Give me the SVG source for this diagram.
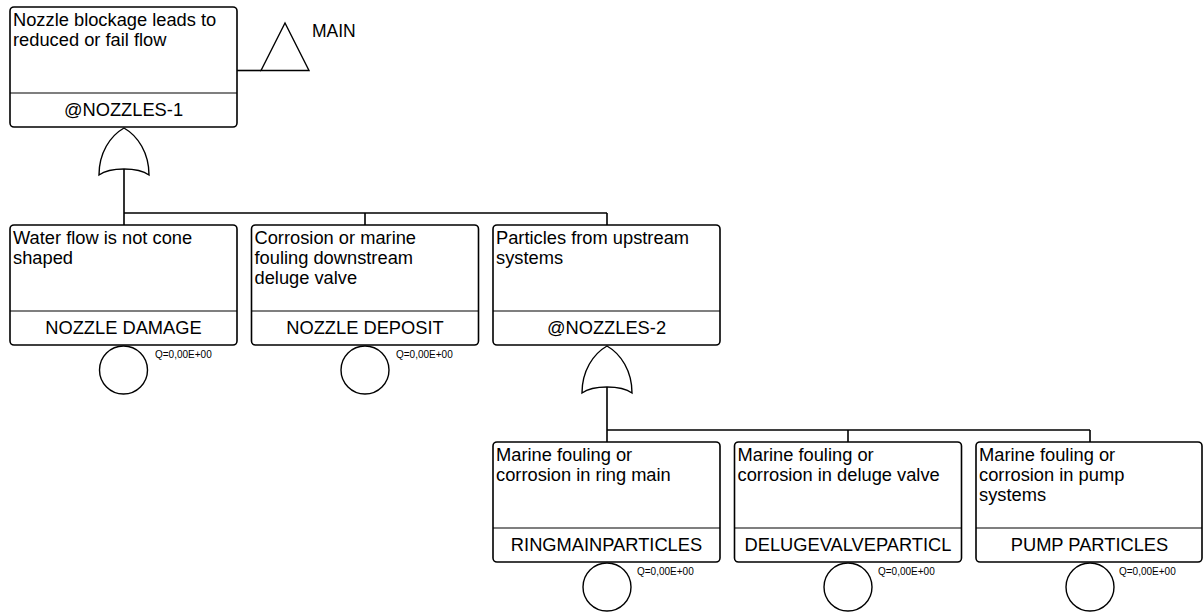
<svg xmlns="http://www.w3.org/2000/svg" width="1203" height="613" viewBox="0 0 1203 613">
  <style>
    .box { fill: #fff; stroke: #000; stroke-width: 1.6; }
    .div { stroke: #000; stroke-width: 1.2; }
    .wire { fill: none; stroke: #000; stroke-width: 1.6; }
    .gate { fill: #fff; stroke: #000; stroke-width: 1.4; }
    .desc { font-family: "Liberation Sans", Arial, sans-serif; font-size: 18.3px; fill: #000; }
    .name { font-family: "Liberation Sans", Arial, sans-serif; font-size: 18.3px; fill: #000; text-anchor: middle; }
    .q { font-family: "Liberation Sans", Arial, sans-serif; font-size: 10px; fill: #000; }
  </style>
  <defs>
    <!-- OR gate, apex at origin -->
    <path id="orgate" d="M -25 47 C -25 25 -14 8 0 0 C 14 8 25 25 25 47 C 14 39 -14 39 -25 47 Z"/>
  </defs>

  <!-- connectors -->
  <g id="connectors">
    <path class="wire" d="M 237 70.5 H 261"/>
    <path class="wire" d="M 124 169 V 213 M 124 213 H 607 M 124 213 V 225 M 365 213 V 225 M 607 213 V 225"/>
    <path class="wire" d="M 607 387 V 430 M 607 430 H 1090 M 607 430 V 442 M 848 430 V 442 M 1090 430 V 442"/>
  </g>

  <!-- top event -->
  <g id="nozzles-1">
    <rect class="box" x="10" y="7" width="227" height="120" rx="4"/>
    <line class="div" x1="10" y1="93" x2="237" y2="93"/>
    <text class="desc" x="13" y="26">Nozzle blockage leads to</text>
    <text class="desc" x="13" y="46">reduced or fail flow</text>
    <text class="name" x="123.5" y="116">@NOZZLES-1</text>
    <use href="#orgate" class="gate" x="124" y="128"/>
  </g>

  <!-- transfer symbol -->
  <g id="transfer-main">
    <polygon class="gate" points="285,23 261,70.5 309,70.5"/>
    <text class="desc" x="312" y="37" style="font-size:17.5px">MAIN</text>
  </g>

  <!-- first level -->
  <g id="nozzle-damage">
    <rect class="box" x="10" y="225" width="227" height="120" rx="4"/>
    <line class="div" x1="10" y1="311" x2="237" y2="311"/>
    <text class="desc" x="13" y="244">Water flow is not cone</text>
    <text class="desc" x="13" y="264">shaped</text>
    <text class="name" x="123.5" y="334">NOZZLE DAMAGE</text>
    <circle class="gate" cx="123.5" cy="370" r="24"/>
    <text class="q" x="155" y="358">Q=0,00E+00</text>
  </g>

  <g id="nozzle-deposit">
    <rect class="box" x="251.5" y="225" width="227" height="120" rx="4"/>
    <line class="div" x1="251.5" y1="311" x2="478.5" y2="311"/>
    <text class="desc" x="254.5" y="244">Corrosion or marine</text>
    <text class="desc" x="254.5" y="264">fouling downstream</text>
    <text class="desc" x="254.5" y="284">deluge valve</text>
    <text class="name" x="365" y="334">NOZZLE DEPOSIT</text>
    <circle class="gate" cx="365" cy="370" r="24"/>
    <text class="q" x="396" y="358">Q=0,00E+00</text>
  </g>

  <g id="nozzles-2">
    <rect class="box" x="493" y="225" width="227" height="120" rx="4"/>
    <line class="div" x1="493" y1="311" x2="720" y2="311"/>
    <text class="desc" x="496" y="244">Particles from upstream</text>
    <text class="desc" x="496" y="264">systems</text>
    <text class="name" x="606.5" y="334">@NOZZLES-2</text>
    <use href="#orgate" class="gate" x="607" y="346"/>
  </g>

  <!-- second level -->
  <g id="ringmainparticles">
    <rect class="box" x="493" y="442" width="227" height="120" rx="4"/>
    <line class="div" x1="493" y1="528" x2="720" y2="528"/>
    <text class="desc" x="496" y="461">Marine fouling or</text>
    <text class="desc" x="496" y="481">corrosion in ring main</text>
    <text class="name" x="606.5" y="551">RINGMAINPARTICLES</text>
    <circle class="gate" cx="607" cy="587" r="24"/>
    <text class="q" x="637" y="575">Q=0,00E+00</text>
  </g>

  <g id="delugevalveparticl">
    <rect class="box" x="734.5" y="442" width="227" height="120" rx="4"/>
    <line class="div" x1="734.5" y1="528" x2="961.5" y2="528"/>
    <text class="desc" x="737.5" y="461">Marine fouling or</text>
    <text class="desc" x="737.5" y="481">corrosion in deluge valve</text>
    <text class="name" x="848" y="551">DELUGEVALVEPARTICL</text>
    <circle class="gate" cx="848" cy="587" r="24"/>
    <text class="q" x="878" y="575">Q=0,00E+00</text>
  </g>

  <g id="pump-particles">
    <rect class="box" x="976" y="442" width="226" height="120" rx="4"/>
    <line class="div" x1="976" y1="528" x2="1202" y2="528"/>
    <text class="desc" x="979" y="461">Marine fouling or</text>
    <text class="desc" x="979" y="481">corrosion in pump</text>
    <text class="desc" x="979" y="501">systems</text>
    <text class="name" x="1089.5" y="551">PUMP PARTICLES</text>
    <circle class="gate" cx="1090" cy="587" r="24"/>
    <text class="q" x="1119" y="575">Q=0,00E+00</text>
  </g>
</svg>
